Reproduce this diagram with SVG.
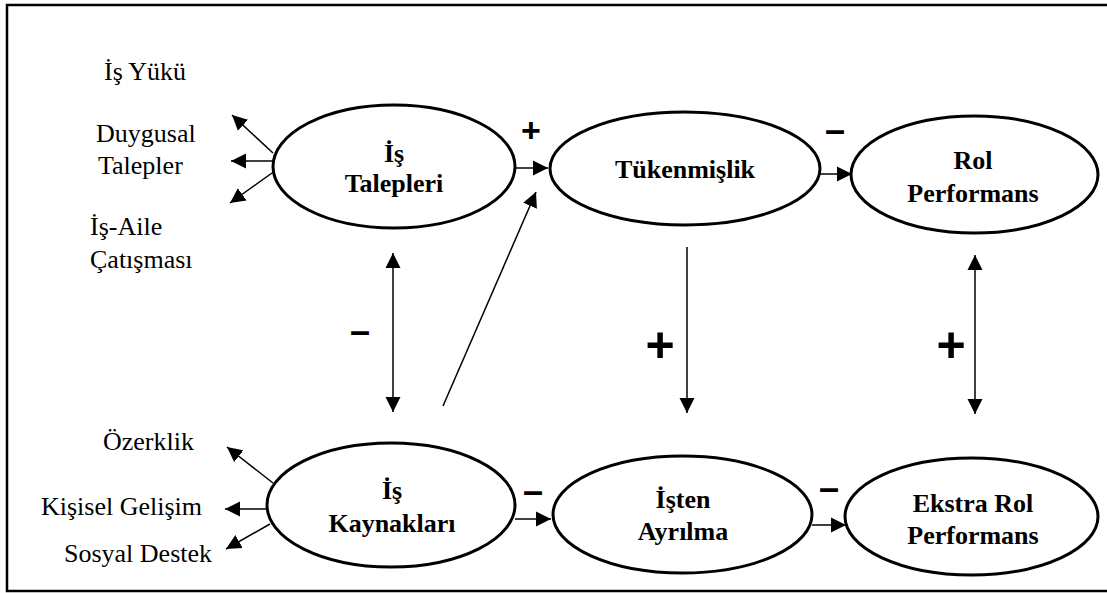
<svg xmlns="http://www.w3.org/2000/svg" width="1107" height="593" viewBox="0 0 1107 593">
<style>
.node ellipse{fill:#fff;stroke:#000;stroke-width:3}
.nt{font-family:"Liberation Serif","Times New Roman",serif;font-weight:bold;font-size:26px;text-anchor:middle;fill:#000}
.lb{font-family:"Liberation Serif","Times New Roman",serif;font-size:26px;fill:#000}
.sg{font-family:"Liberation Sans",Arial,sans-serif;font-weight:bold;text-anchor:middle;fill:#000}
.cn line{stroke:#000;stroke-width:1.5;fill:none}
</style>
<defs>
<marker id="ah" markerUnits="userSpaceOnUse" markerWidth="16" markerHeight="16" viewBox="0 0 16 16" refX="15" refY="8" orient="auto-start-reverse">
<path d="M0,0.5 L15,8 L0,15.5 z" fill="#000"/>
</marker>
</defs>
<rect x="7" y="5" width="1104" height="586" fill="#fff" stroke="#000" stroke-width="2.5"/>

<g id="connectors" class="cn">
<line x1="273" y1="153" x2="232" y2="115" marker-end="url(#ah)"/>
<line x1="273" y1="161" x2="231" y2="161" marker-end="url(#ah)"/>
<line x1="272" y1="173" x2="230" y2="203" marker-end="url(#ah)"/>
<line x1="273" y1="483" x2="227" y2="447" marker-end="url(#ah)"/>
<line x1="267" y1="509" x2="225" y2="509" marker-end="url(#ah)"/>
<line x1="270" y1="524" x2="226" y2="549" marker-end="url(#ah)"/>
<line x1="515" y1="168" x2="548" y2="168" marker-end="url(#ah)"/>
<line x1="443" y1="406" x2="536" y2="192" marker-end="url(#ah)"/>
<line x1="820" y1="174" x2="852" y2="174" marker-end="url(#ah)"/>
<line x1="515" y1="519" x2="551" y2="519" marker-end="url(#ah)"/>
<line x1="812" y1="525" x2="846" y2="525" marker-end="url(#ah)"/>
<line x1="393" y1="253" x2="393" y2="412" marker-start="url(#ah)" marker-end="url(#ah)"/>
<line x1="687" y1="247" x2="687" y2="413" marker-end="url(#ah)"/>
<line x1="975" y1="255" x2="975" y2="414" marker-start="url(#ah)" marker-end="url(#ah)"/>
</g>

<g id="signs">
<text class="sg" x="531" y="142" font-size="34">+</text>
<text class="sg" x="835" y="142" font-size="36">–</text>
<text class="sg" x="360" y="343" font-size="36">–</text>
<text class="sg" x="660" y="362" font-size="50">+</text>
<text class="sg" x="951" y="362" font-size="50">+</text>
<text class="sg" x="533" y="503" font-size="36">–</text>
<text class="sg" x="829" y="500" font-size="36">–</text>
</g>

<g id="labels">
<text class="lb" x="104" y="80">İş Yükü</text>
<text class="lb" x="96" y="142">Duygusal</text>
<text class="lb" x="98" y="174">Talepler</text>
<text class="lb" x="90" y="235">İş-Aile</text>
<text class="lb" x="90" y="268">Çatışması</text>
<text class="lb" x="103" y="450">Özerklik</text>
<text class="lb" x="202" y="515" text-anchor="end">Kişisel Gelişim</text>
<text class="lb" x="64" y="562">Sosyal Destek</text>
</g>

<g id="is-talepleri" class="node">
<ellipse cx="394" cy="166.5" rx="121" ry="61.5"/>
<text class="nt" x="394" y="162">İş</text>
<text class="nt" x="394" y="192">Talepleri</text>
</g>
<g id="tukenmislik" class="node">
<ellipse cx="685" cy="168.5" rx="135" ry="56.5"/>
<text class="nt" x="685" y="178">Tükenmişlik</text>
</g>
<g id="rol-performans" class="node">
<ellipse cx="974.5" cy="174.5" rx="123.5" ry="58.5"/>
<text class="nt" x="973" y="169">Rol</text>
<text class="nt" x="973" y="202">Performans</text>
</g>
<g id="is-kaynaklari" class="node">
<ellipse cx="391" cy="505" rx="124" ry="62"/>
<text class="nt" x="392" y="499">İş</text>
<text class="nt" x="392" y="532">Kaynakları</text>
</g>
<g id="isten-ayrilma" class="node">
<ellipse cx="682.5" cy="514.5" rx="129.5" ry="58.5"/>
<text class="nt" x="683" y="508">İşten</text>
<text class="nt" x="683" y="540">Ayrılma</text>
</g>
<g id="ekstra-rol-performans" class="node">
<ellipse cx="971.5" cy="516.5" rx="126.5" ry="58.5"/>
<text class="nt" x="973" y="512">Ekstra Rol</text>
<text class="nt" x="973" y="544">Performans</text>
</g>
</svg>
